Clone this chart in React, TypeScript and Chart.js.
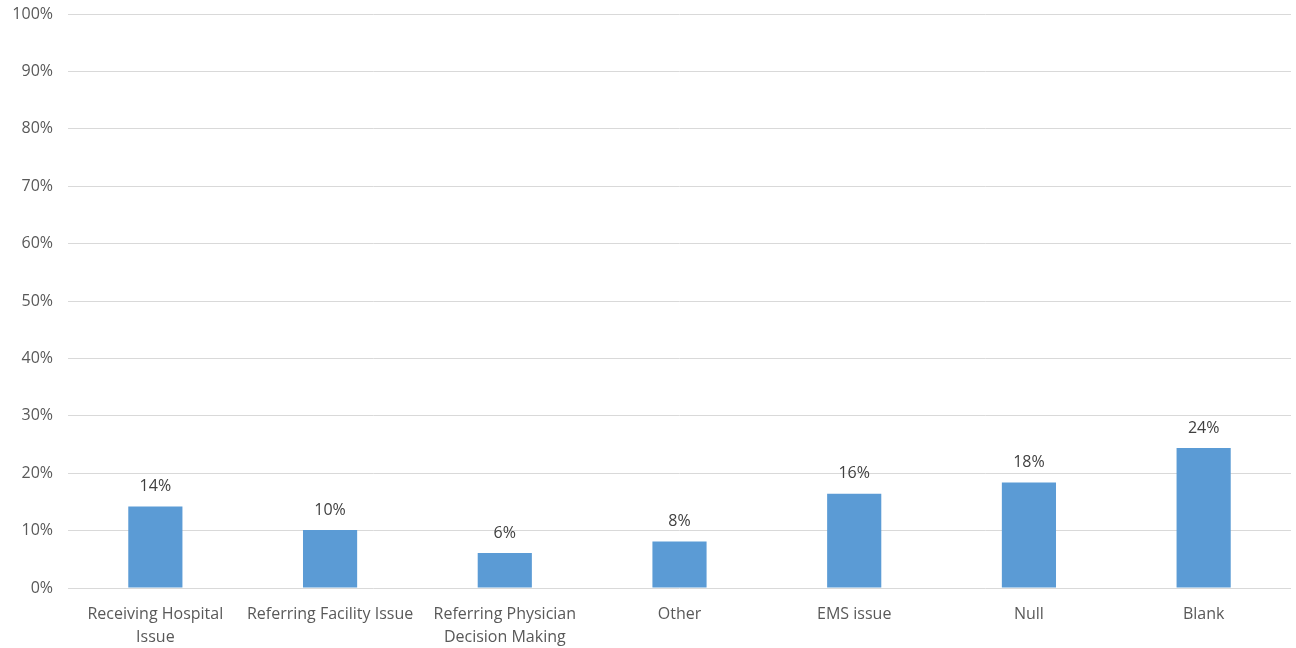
import React, { useEffect, useRef } from "react";
import { Chart, registerables } from "chart.js";

Chart.register(...registerables);

const categories: (string | string[])[] = [
  ["Receiving Hospital", "Issue"],
  "Referring Facility Issue",
  ["Referring Physician", "Decision Making"],
  "Other",
  "EMS issue",
  "Null",
  "Blank",
];

const shares: number[] = [14.2, 10.1, 6.1, 8.1, 16.4, 18.4, 24.4];

const yTickStep = 10;
const yMax = 100;

const FONT = "'Open Sans', 'Liberation Sans', sans-serif";
const TEXT = "#595959";

const valueLabels = {
  id: "valueLabels",
  afterDatasetsDraw(chart: Chart) {
    const { ctx } = chart;
    const meta = chart.getDatasetMeta(0);
    const data = chart.data.datasets[0].data as number[];
    ctx.save();
    ctx.font = `16px ${FONT}`;
    ctx.fillStyle = "#404040";
    ctx.textAlign = "center";
    ctx.textBaseline = "middle";
    meta.data.forEach((bar: any, i: number) => {
      ctx.fillText(`${Math.round(data[i])}%`, bar.x, bar.y - 20);
    });
    ctx.restore();
  },
};

export default function App() {
  const canvasRef = useRef<HTMLCanvasElement | null>(null);

  useEffect(() => {
    if (!canvasRef.current) return;
    const chart = new Chart(canvasRef.current, {
      type: "bar",
      data: {
        labels: categories,
        datasets: [
          {
            data: shares,
            backgroundColor: "#5B9BD5",
            barPercentage: 0.31,
            categoryPercentage: 1,
          },
        ],
      },
      options: {
        animation: false,
        responsive: false,
        maintainAspectRatio: false,
        layout: { padding: { top: 14, right: 5, left: 0, bottom: 0 } },
        plugins: {
          legend: { display: false },
          tooltip: { enabled: false },
        },
        scales: {
          x: {
            grid: { display: false },
            border: { display: false },
            ticks: {
              color: TEXT,
              font: { family: FONT, size: 16, lineHeight: 1.45 },
              padding: 7,
              maxRotation: 0,
              autoSkip: false,
            },
            afterFit(scale: any) {
              scale.height = 60;
            },
          },
          y: {
            min: 0,
            max: yMax,
            border: { display: false },
            grid: { color: "#D9D9D9", drawTicks: false, lineWidth: 1 },
            ticks: {
              stepSize: yTickStep,
              color: TEXT,
              font: { family: FONT, size: 16 },
              padding: 15,
              callback: (v: any) => `${v}%`,
            },
            afterFit(scale: any) {
              scale.width = 68;
              scale.paddingTop = 0;
            },
          },
        },
      },
      plugins: [valueLabels],
    });
    return () => chart.destroy();
  }, []);

  return (
    <div style={{ position: "absolute", left: 0, top: 0, width: 1296, height: 648, background: "#fff" }}>
      <canvas ref={canvasRef} width={1296} height={648} />
    </div>
  );
}
